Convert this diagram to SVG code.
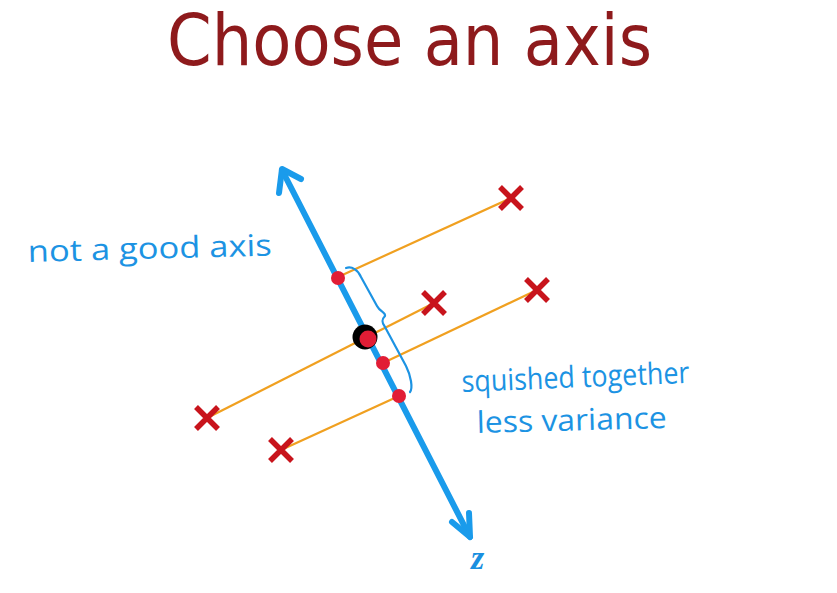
<svg xmlns="http://www.w3.org/2000/svg" width="837" height="593" viewBox="0 0 837 593">
<style>
.title{font-family:"DejaVu Sans","Verdana",sans-serif;font-size:71px;fill:#8E1A1C}
.hand{font-family:"Open Sans","Liberation Sans",sans-serif;fill:#1C93E3}
.axis{stroke:#1A9BEB;stroke-width:6;fill:none;stroke-linecap:round;stroke-linejoin:round}
.proj{stroke:#F0A020;stroke-width:2.2;fill:none}
.x{stroke:#C8141C;stroke-width:5.5;stroke-linecap:butt}
.dot{fill:#E11D35}
.brace{stroke:#1C93E3;stroke-width:2.2;fill:none;stroke-linecap:round;stroke-linejoin:round}
</style>
<rect width="837" height="593" fill="#ffffff"/>
<g id="title">
<text class="title" x="167" y="65" textLength="485" lengthAdjust="spacingAndGlyphs">Choose an axis</text>
</g>
<g id="connectors">
<g id="projections">
<line class="proj" x1="338" y1="277" x2="511" y2="198"/>
<line class="proj" x1="207" y1="418" x2="434" y2="303"/>
<line class="proj" x1="383" y1="363" x2="537" y2="290"/>
<line class="proj" x1="399" y1="396" x2="281" y2="450"/>
</g>
<g id="axis-z">
<line class="axis" x1="282" y1="170" x2="470" y2="537"/>
<path class="axis" d="M279,193 L282,169 L301,179"/>
<path class="axis" d="M452,522 L470,537 L469,513"/>
</g>
</g>
<g id="points">
<g id="p1"><path class="x" d="M500,187 L522,209 M522,187 L500,209"/></g>
<g id="p2"><path class="x" d="M423,292 L445,314 M445,292 L423,314"/></g>
<g id="p3"><path class="x" d="M526,279 L548,301 M548,279 L526,301"/></g>
<g id="p4"><path class="x" d="M196,407 L218,429 M218,407 L196,429"/></g>
<g id="p5"><path class="x" d="M270,439 L292,461 M292,439 L270,461"/></g>
</g>
<g id="projected-points">
<circle class="dot" cx="338" cy="278" r="7"/>
<circle cx="365" cy="337" r="12.5" fill="#000000"/>
<circle class="dot" cx="368" cy="339" r="8.5"/>
<circle class="dot" cx="383" cy="363" r="7"/>
<circle class="dot" cx="399" cy="396" r="7"/>
</g>
<g id="brace">
<path class="brace" d="M346,268 C352,266 358,270 361,277 L377,306 C380,312 386,312 385,316 C382,319 381,322 385,327 L406,366 C411,376 413,388 410,392"/>
</g>
<g id="labels">
<text class="hand" font-size="30" x="28" y="262" textLength="244" lengthAdjust="spacingAndGlyphs" transform="rotate(-1.5 28 262)">not a good axis</text>
<text class="hand" font-size="30" x="462" y="392" textLength="228" lengthAdjust="spacingAndGlyphs" transform="rotate(-2.3 462 392)">squished together</text>
<text class="hand" font-size="30" x="477" y="433" textLength="190" lengthAdjust="spacingAndGlyphs" transform="rotate(-1.5 477 433)">less variance</text>
<text x="471" y="569" font-family="Liberation Serif,serif" font-style="italic" font-weight="bold" font-size="34" fill="#1A8FE0">z</text>
</g>
</svg>
